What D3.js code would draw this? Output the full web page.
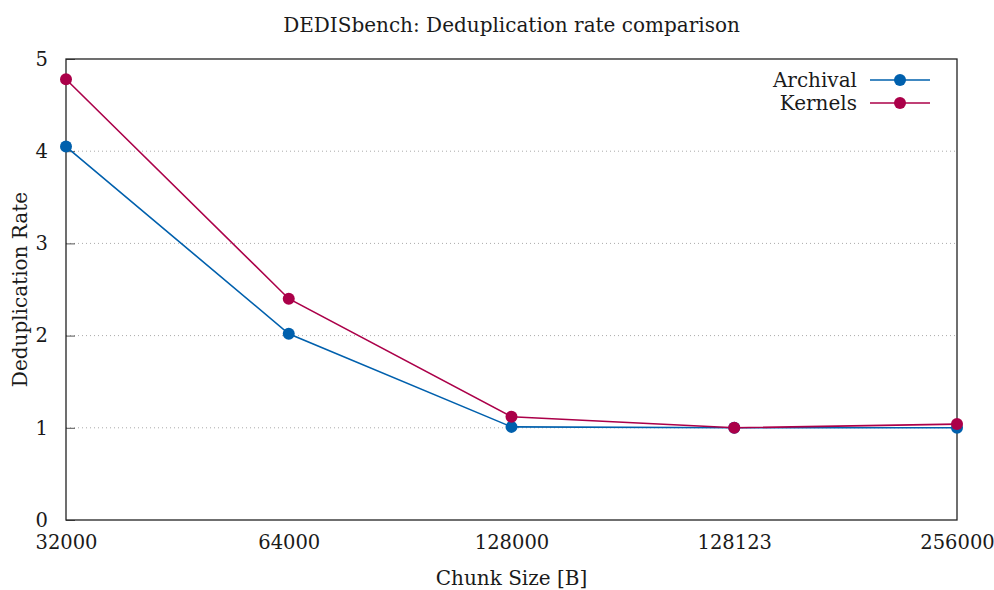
<!DOCTYPE html>
<html>
<head>
  <title>DEDISbench: Deduplication rate comparison</title>
  <script src="https://d3js.org/d3.v7.min.js"></script>
  <style>
    body { margin: 0; background: #fff; }
    text { font-family: "DejaVu Serif", serif; fill: #1a1a1a; }
  </style>
</head>
<body>
  <svg id="chart"></svg>

  <script>
    // data
    const chunkSizes = ['32000', '64000', '128000', '128123', '256000'];
    const archival = [4.05, 2.02, 1.01, 1.0, 1.0];
    const kernels = [4.78, 2.40, 1.12, 1.0, 1.04];
    const yTicks = [0, 1, 2, 3, 4, 5];

    const series = [
      { name: 'Archival', values: archival, color: '#0060ad' },
      { name: 'Kernels', values: kernels, color: '#ab0049' }
    ];

    const width = 994, height = 590;
    const margin = { top: 59, right: 37, bottom: 70, left: 66 };
    const plotW = width - margin.left - margin.right;
    const plotH = height - margin.top - margin.bottom;

    const svg = d3.select('#chart')
      .attr('width', width)
      .attr('height', height);

    const x = d3.scalePoint()
      .domain(chunkSizes)
      .range([0, plotW])
      .padding(0);

    const y = d3.scaleLinear()
      .domain([0, 5])
      .range([plotH, 0]);

    const g = svg.append('g')
      .attr('transform', `translate(${margin.left},${margin.top})`);

    // grid lines (dotted)
    g.selectAll('.grid')
      .data(yTicks.filter(d => d > 0 && d < 5))
      .enter()
      .append('line')
      .attr('class', 'grid')
      .attr('x1', 0)
      .attr('x2', plotW)
      .attr('y1', d => y(d))
      .attr('y2', d => y(d))
      .attr('stroke', '#aaa')
      .attr('stroke-width', 1)
      .attr('stroke-dasharray', '1,3');

    // y axis
    const yAxis = g.append('g')
      .call(d3.axisLeft(y).tickValues(yTicks).tickSize(-9).tickPadding(18).tickFormat(d3.format('d')));
    yAxis.select('.domain').remove();
    yAxis.selectAll('line').attr('stroke', '#555');
    yAxis.selectAll('text').style('font-size', '19.5px').attr('fill', '#1a1a1a');

    // x axis
    const xAxis = g.append('g')
      .attr('transform', `translate(0,${plotH})`)
      .call(d3.axisBottom(x).tickSize(0).tickPadding(15));
    xAxis.select('.domain').remove();
    xAxis.selectAll('text').style('font-size', '19.5px').attr('fill', '#1a1a1a');

    // border
    g.append('rect')
      .attr('x', 0)
      .attr('y', 0)
      .attr('width', plotW)
      .attr('height', plotH)
      .attr('fill', 'none')
      .attr('stroke', '#222')
      .attr('stroke-width', 1.3);

    // lines + points
    const line = d3.line()
      .x((d, i) => x(chunkSizes[i]))
      .y(d => y(d));

    series.forEach(s => {
      g.append('path')
        .datum(s.values)
        .attr('fill', 'none')
        .attr('stroke', s.color)
        .attr('stroke-width', 1.6)
        .attr('d', line);

      g.selectAll('.pt-' + s.name)
        .data(s.values)
        .enter()
        .append('circle')
        .attr('cx', (d, i) => x(chunkSizes[i]))
        .attr('cy', d => y(d))
        .attr('r', 6)
        .attr('fill', s.color);
    });

    // legend
    const legend = g.append('g')
      .attr('transform', `translate(${plotW - 87},21)`);
    series.forEach((s, i) => {
      const row = legend.append('g').attr('transform', `translate(0,${i * 23})`);
      row.append('text')
        .attr('x', -13)
        .attr('y', 0)
        .attr('dy', '0.35em')
        .attr('text-anchor', 'end')
        .style('font-size', '20px')
        .text(s.name);
      row.append('line')
        .attr('x1', 0).attr('x2', 60)
        .attr('stroke', s.color)
        .attr('stroke-width', 1.6);
      row.append('circle')
        .attr('cx', 30)
        .attr('r', 6)
        .attr('fill', s.color);
    });

    // title
    svg.append('text')
      .attr('x', margin.left + plotW / 2)
      .attr('y', 32)
      .attr('text-anchor', 'middle')
      .style('font-size', '20px')
      .text('DEDISbench: Deduplication rate comparison');

    // axis labels
    svg.append('text')
      .attr('x', margin.left + plotW / 2)
      .attr('y', 585)
      .attr('text-anchor', 'middle')
      .style('font-size', '20px')
      .text('Chunk Size [B]');

    svg.append('text')
      .attr('transform', `translate(27,${margin.top + plotH / 2}) rotate(-90)`)
      .attr('text-anchor', 'middle')
      .style('font-size', '20px')
      .text('Deduplication Rate');
  </script>
</body>
</html>
